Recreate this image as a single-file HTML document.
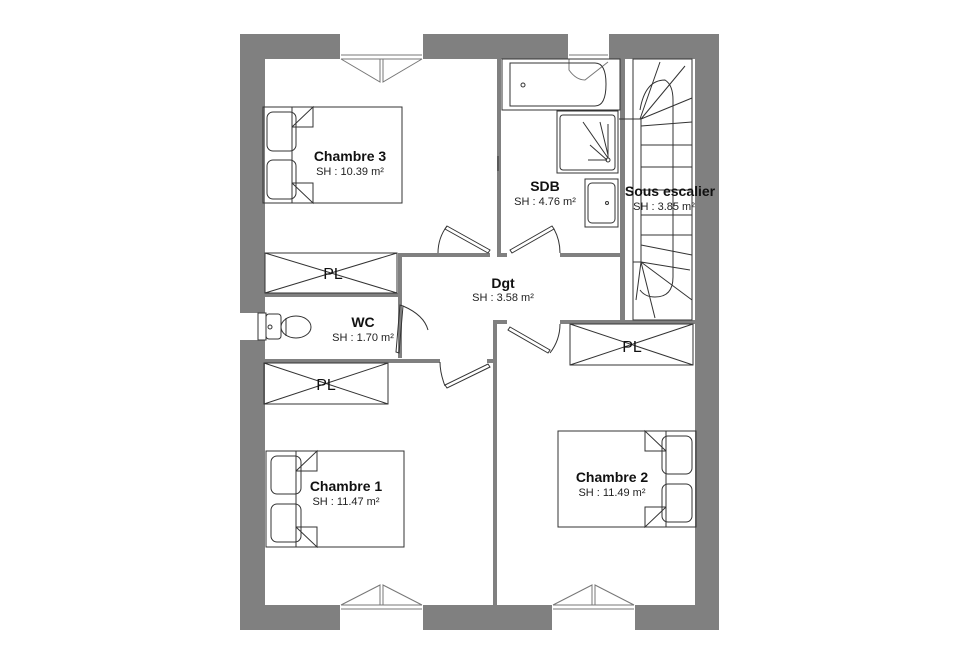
<!DOCTYPE html>
<html><head><meta charset="utf-8"><style>
html,body{margin:0;padding:0;background:#fff;}
svg{display:block;font-family:"Liberation Sans",Arial,sans-serif;}
.t{font-weight:bold;font-size:14px;text-anchor:middle;fill:#111}
.s{font-size:11px;text-anchor:middle;fill:#222}
.pl{font-size:16px;text-anchor:middle;fill:#111}
.l{fill:none;stroke:#333;stroke-width:1}
.g{fill:none;stroke:#777;stroke-width:1}
</style></head><body>
<svg width="960" height="664" viewBox="0 0 960 664" xmlns="http://www.w3.org/2000/svg">
<path fill="#808080" fill-rule="evenodd" d="M240 34H719V630H240Z M265 59H695V605H265Z"/>
<rect x="340" y="34" width="83" height="25" fill="#fff"/>
<rect x="568" y="34" width="41" height="25" fill="#fff"/>
<rect x="340" y="605" width="83" height="25" fill="#fff"/>
<rect x="552" y="605" width="83" height="25" fill="#fff"/>
<rect x="240" y="313" width="25" height="27" fill="#fff"/>
<g class="g">
<path d="M341 55H422M341 59H422M341 605H422M341 609H422M553 605H634M553 609H634M569 55H608"/>
<path d="M341 59L380 82L380 59M422 59L383 82L383 59"/>
<path d="M341 605L380 585L380 605M422 605L383 585L383 605"/>
<path d="M553 605L592 585L592 605M634 605L595 585L595 605"/>
<path d="M569 59V70Q576 80 585 80L608 62"/>
</g>
<g fill="#808080">
<rect x="497" y="59" width="4" height="198"/>
<rect x="620" y="59" width="5" height="262"/>
<rect x="265" y="293" width="133" height="4"/>
<rect x="398" y="253" width="4" height="105"/>
<rect x="398" y="253" width="92" height="4"/>
<rect x="497" y="253" width="10" height="4"/>
<rect x="560" y="253" width="60" height="4"/>
<rect x="265" y="359" width="175" height="4"/>
<rect x="487" y="359" width="6" height="4"/>
<rect x="493" y="320" width="4" height="285"/>
<rect x="493" y="320" width="14" height="4"/>
<rect x="560" y="320" width="135" height="4"/>
</g>
<g class="l">
<path d="M447 226L490 250L488 253L445 229Z"/>
<path d="M447 226Q438 238 438 253"/>
<path d="M510 250L552 226L554 229L512 253Z"/>
<path d="M554 229Q560 240 560 253"/>
<path d="M400 305L396 352L399 353L403 306Z"/>
<path d="M403 306Q424 315 428 330"/>
<path d="M445 385L488 364L490 367L447 388Z"/>
<path d="M445 386Q440 373 440 362"/>
<path d="M510 327L550 350L548 353L508 330Z"/>
<path d="M550 353Q560 340 560 324"/>
<path d="M498 156V171"/>
</g>
<g class="l">
<rect x="265" y="253" width="132" height="40"/><path d="M265 253L397 293M397 253L265 293"/>
<rect x="264" y="363" width="124" height="41"/><path d="M264 363L388 404M388 363L264 404"/>
<rect x="570" y="324" width="123" height="41"/><path d="M570 324L693 365M693 324L570 365"/>
</g>
<text class="pl" x="333" y="279">PL</text>
<text class="pl" x="326" y="390">PL</text>
<text class="pl" x="632" y="352">PL</text>
<g class="l">
<rect x="263" y="107" width="139" height="96"/>
<rect x="267" y="112" width="29" height="39" rx="6"/><rect x="267" y="160" width="29" height="39" rx="6"/>
<path d="M292 107V203M292 127L313 107V127H292M292 183L313 203V183H292"/>
<rect x="266" y="451" width="138" height="96"/>
<rect x="271" y="456" width="30" height="38" rx="6"/><rect x="271" y="504" width="30" height="38" rx="6"/>
<path d="M296 451V547M296 471L317 451V471H296M296 527L317 547V527H296"/>
<rect x="558" y="431" width="138" height="96"/>
<rect x="662" y="436" width="30" height="38" rx="6"/><rect x="662" y="484" width="30" height="38" rx="6"/>
<path d="M666 431V527M666 451L645 431V451H666M666 507L645 527V507H666"/>
</g>
<g class="l">
<rect x="502" y="59" width="118" height="51"/>
<path d="M510 63H595Q606 63 606 84Q606 106 595 106H510Z"/>
<circle cx="523" cy="85" r="2"/>
<rect x="557" y="111" width="61" height="62"/>
<rect x="560" y="115" width="55" height="55" rx="3"/>
<path d="M583 122L608 158M600 122L608 155M608 124V158M590 145L607 160M588 160H607"/>
<circle cx="608" cy="160" r="2"/>
<rect x="585" y="179" width="33" height="48"/>
<rect x="588" y="183" width="27" height="40" rx="4"/>
<circle cx="607" cy="203" r="1.5"/>
<rect x="258" y="313" width="8" height="27"/>
<rect x="266" y="314" width="15" height="25" rx="3"/>
<ellipse cx="296" cy="327" rx="15" ry="11"/>
<path d="M286 318V336"/>
<circle cx="270" cy="327" r="2"/>
</g>
<g class="l">
<rect x="633" y="59" width="59" height="261"/>
<path d="M619 119H641L641 120V262L633 262"/>
<path d="M640 110Q645 80 665 80Q673 85 673 100V277Q673 297 655 297Q645 297 640 290"/>
<path d="M640 119L660 62M641 119L685 66M641 119L692 98M641 126L692 122M641 145L692 145M641 167L692 167M641 190L692 190M641 215L692 215M641 235L692 235M641 245L692 255M641 262L690 270M641 262L692 300M641 262L655 318M641 262L636 300"/>
</g>
<text class="t" x="350" y="161">Chambre 3</text><text class="s" x="350" y="175">SH : 10.39 m²</text>
<text class="t" x="545" y="191">SDB</text><text class="s" x="545" y="205">SH : 4.76 m²</text>
<text class="t" x="670" y="196">Sous escalier</text><text class="s" x="664" y="210">SH : 3.85 m²</text>
<text class="t" x="503" y="288">Dgt</text><text class="s" x="503" y="301">SH : 3.58 m²</text>
<text class="t" x="363" y="327">WC</text><text class="s" x="363" y="341">SH : 1.70 m²</text>
<text class="t" x="346" y="491">Chambre 1</text><text class="s" x="346" y="505">SH : 11.47 m²</text>
<text class="t" x="612" y="482">Chambre 2</text><text class="s" x="612" y="496">SH : 11.49 m²</text>
</svg>
</body></html>
